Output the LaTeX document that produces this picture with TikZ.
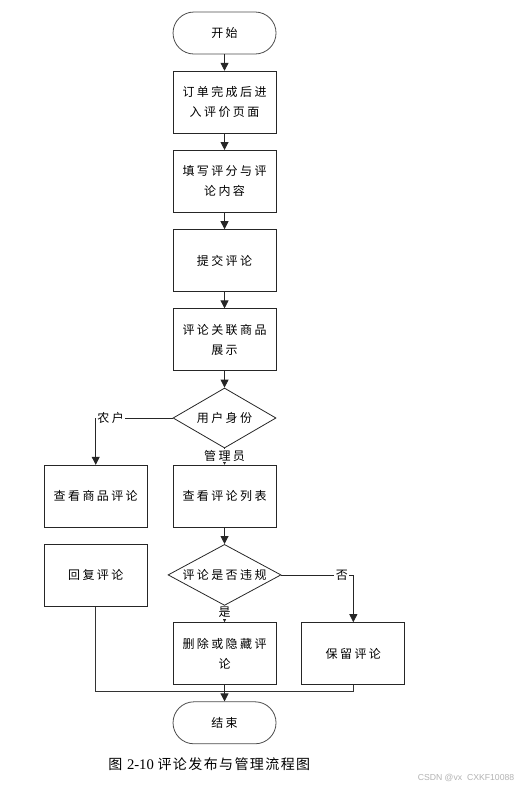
\documentclass[tikz,border=0pt]{standalone}
\usepackage{fontspec}
\setmainfont{Liberation Serif}
\newfontfamily\cjk[LetterSpace=20]{Noto Sans CJK SC}
\newfontfamily\capfont[LetterSpace=10]{Noto Sans CJK SC}
\usetikzlibrary{positioning,shapes.geometric,arrows.meta}

\tikzset{
    box/.style={draw=black!85, line width=0.6pt, minimum width=77.25pt, minimum height=46.5pt,
        align=center, inner sep=2pt, font=\cjk\fontsize{9}{15}\selectfont},
    term/.style={box, minimum height=31.5pt, rounded corners=15.7pt, draw=black!70},
    choice/.style={box, diamond, aspect=1.7, inner sep=0pt, minimum height=45pt},
    arr/.style={-{Triangle[length=6pt,width=6pt]}, line width=0.6pt, draw=black!85},
    lnk/.style={line width=0.6pt, draw=black!80},
    lab/.style={font=\cjk\fontsize{9}{11}\selectfont, fill=white, inner sep=1pt},
}

\begin{document}
\begin{tikzpicture}[node distance=12.3pt]
    \useasboundingbox (0,0) rectangle (390.75pt,-592.5pt);

    \node [term] (start) at (168.4pt,-24.75pt) {开始};
    \node [box, below=of start] (enter) {订单完成后进\\入评价页面};
    \node [box, below=of enter] (write) {填写评分与评\\论内容};
    \node [box, below=of write] (submit) {提交评论};
    \node [box, below=of submit] (show) {评论关联商品\\展示};
    \node [choice, below=of show] (role) {用户身份};
    \node [box, below=of role] (list) {查看评论列表};
    \node [box, left=18.75pt of list] (view) {查看商品评论};
    \node [box, below=of view] (reply) {回复评论};
    \node [choice, below=of list, minimum width=84.75pt, minimum height=45.75pt] (check) {评论是否违规};
    \node [box, below=of check] (del) {删除或隐藏评\\论};
    \node [box, right=18.75pt of del] (keep) {保留评论};
    \node [term, below=of del] (stop) {结束};
    \coordinate [below=4.5pt of del.south] (join);

    \draw [arr] (start) -- (enter);
    \draw [arr] (enter) -- (write);
    \draw [arr] (write) -- (submit);
    \draw [arr] (submit) -- (show);
    \draw [arr] (show) -- (role);
    \draw [arr] (role) -| node [lab, pos=0.5, anchor=west] {农户} (view);
    \draw [arr] (role) -- (list);
    \node [lab, below=0pt of role.south] {管理员};
    \draw [arr] (list) -- (check);
    \draw [arr] (check) -- (del);
    \node [lab, below=0pt of check.south] {是};
    \draw [arr] (check) -| node [lab, pos=0.42] {否} (keep);
    \draw [lnk] (reply.south) |- (join) -| (keep.south);
    \draw [arr] (del) -- (stop);

    \node (cap) at (157pt,-573pt) {\capfont\fontsize{10.5}{12}\selectfont 图 \fontspec{Liberation Serif}\fontsize{11}{12}\selectfont 2-10 \capfont\fontsize{10.5}{12}\selectfont 评论发布与管理流程图};
    \node [text=black!30, font=\fontspec{Liberation Sans}\fontsize{6.5}{8}\selectfont] (mark) at (349.5pt,-583.5pt) {CSDN @vx\ \ CXKF10088};
\end{tikzpicture}
\end{document}
